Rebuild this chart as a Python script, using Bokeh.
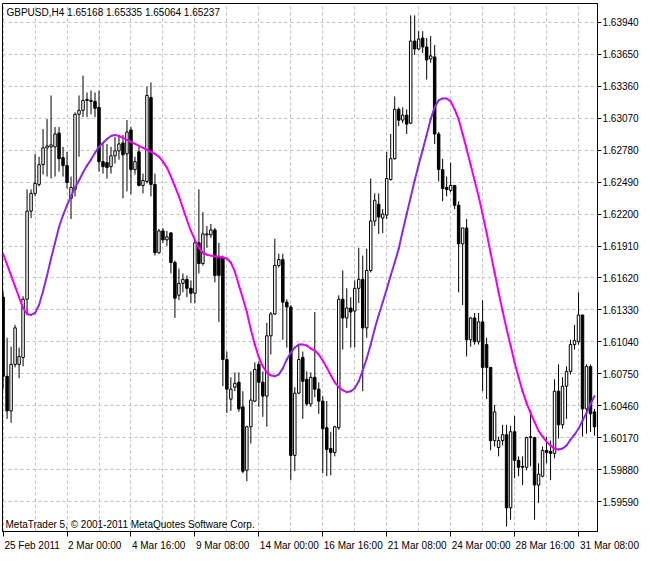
import pandas as pd
from bokeh.plotting import figure
from bokeh.models import (Range1d, FixedTicker, Label, ColumnDataSource, PrintfTickFormatter,
                          CustomJSTickFormatter)
from bokeh.embed import file_html
from bokeh.resources import INLINE

symbol_text = "GBPUSD,H4  1.65168 1.65335 1.65064 1.65237"
copyright_text = "MetaTrader 5, \u00a9 2001-2011 MetaQuotes Software Corp."

open_ = [
    1.61445, 1.60727, 1.60413, 1.60835, 1.60835, 1.60898, 1.61427, 1.62227, 1.62388, 1.62469,
    1.62649, 1.62801, 1.62810, 1.62810, 1.62936, 1.62712, 1.62640, 1.62343, 1.62424, 1.63106,
    1.63142, 1.63241, 1.63232, 1.63223, 1.63169, 1.62676, 1.62667, 1.62631, 1.62729, 1.62774,
    1.62846, 1.62747, 1.62963, 1.62604, 1.62765, 1.62460, 1.62496, 1.63259, 1.62469, 1.61849,
    1.62047, 1.61966, 1.62029, 1.61760, 1.61463, 1.61571, 1.61607, 1.61526, 1.61481, 1.61939,
    1.61751, 1.62011, 1.62011, 1.62056, 1.61805, 1.61805, 1.60880, 1.60520, 1.60628, 1.60673,
    1.60449, 1.59874, 1.60269, 1.60502, 1.60835, 1.60673, 1.60547, 1.61095, 1.61293, 1.61733,
    1.61787, 1.61400, 1.61356, 1.60009, 1.60574, 1.60898, 1.60700, 1.60476, 1.60718, 1.60610,
    1.60502, 1.60260, 1.60072, 1.60036, 1.60260, 1.61427, 1.61257, 1.61347, 1.61320, 1.61526,
    1.61607, 1.61167, 1.61688, 1.62137, 1.62289, 1.62164, 1.62191, 1.62514, 1.62703, 1.63151,
    1.63053, 1.63098, 1.63026, 1.63771, 1.63699, 1.63798, 1.63717, 1.63609, 1.63627, 1.62927,
    1.62604, 1.62442, 1.62415, 1.62460, 1.62280, 1.61930, 1.62074, 1.61059, 1.61257, 1.61041,
    1.61221, 1.61015, 1.60808, 1.60143, 1.60081, 1.60143, 1.60197, 1.59533, 1.60224, 1.59964,
    1.59910, 1.59901, 1.60170, 1.60170, 1.59740, 1.59820, 1.60054, 1.60045, 1.60027, 1.60592,
    1.60287, 1.60637, 1.60772, 1.61015, 1.61041, 1.61284, 1.60431, 1.60817, 1.60404,
]

high = [
    1.61499, 1.61077, 1.60997, 1.61194, 1.60988, 1.61454, 1.62424, 1.62424, 1.62747, 1.62721,
    1.62972, 1.63062, 1.63277, 1.62990, 1.62990, 1.62810, 1.62765, 1.62541, 1.63124, 1.63277,
    1.63457, 1.63304, 1.63322, 1.63304, 1.63322, 1.62855, 1.62837, 1.62810, 1.62900, 1.62900,
    1.62918, 1.63053, 1.62990, 1.62721, 1.62810, 1.62568, 1.63358, 1.63394, 1.62568, 1.62065,
    1.62074, 1.62047, 1.62038, 1.61778, 1.61706, 1.61661, 1.61643, 1.61598, 1.61957, 1.62424,
    1.62218, 1.62092, 1.62110, 1.62074, 1.61939, 1.61823, 1.60952, 1.60718, 1.60763, 1.60763,
    1.60592, 1.60278, 1.60772, 1.60853, 1.60862, 1.60772, 1.61212, 1.61311, 1.61975, 1.61840,
    1.61840, 1.61427, 1.61374, 1.60628, 1.61015, 1.60952, 1.60772, 1.60763, 1.61311, 1.60673,
    1.60547, 1.60502, 1.60224, 1.60278, 1.61463, 1.61688, 1.61526, 1.61445, 1.61598, 1.61894,
    1.61823, 1.61885, 1.62523, 1.62388, 1.62388, 1.62245, 1.62765, 1.62927, 1.63268, 1.63169,
    1.63169, 1.63151, 1.64004, 1.64004, 1.63861, 1.63861, 1.63798, 1.63816, 1.63735, 1.62945,
    1.62703, 1.62541, 1.62667, 1.62460, 1.62316, 1.62074, 1.62155, 1.61266, 1.61302, 1.61302,
    1.61418, 1.61077, 1.60808, 1.60467, 1.60179, 1.60287, 1.60287, 1.60278, 1.60368, 1.60000,
    1.60000, 1.60179, 1.60422, 1.60179, 1.59937, 1.60090, 1.60179, 1.60143, 1.60700, 1.60835,
    1.60718, 1.60817, 1.61059, 1.61194, 1.61490, 1.61284, 1.60835, 1.60835, 1.60431,
]

low = [
    1.60610, 1.60341, 1.60305, 1.60808, 1.60709, 1.60817, 1.61284, 1.62164, 1.62361, 1.62451,
    1.62559, 1.62541, 1.62523, 1.62541, 1.62586, 1.62541, 1.62433, 1.62155, 1.62361, 1.62721,
    1.63080, 1.63080, 1.63106, 1.63080, 1.62586, 1.62568, 1.62523, 1.62568, 1.62658, 1.62694,
    1.62343, 1.62406, 1.62379, 1.62559, 1.62451, 1.62388, 1.62478, 1.62361, 1.61823, 1.61840,
    1.61939, 1.61912, 1.61661, 1.61257, 1.61418, 1.61490, 1.61445, 1.61391, 1.61391, 1.61661,
    1.61733, 1.61894, 1.61984, 1.61580, 1.61221, 1.60637, 1.60395, 1.60413, 1.60592, 1.60404,
    1.59847, 1.59775, 1.60117, 1.60493, 1.60449, 1.60359, 1.60269, 1.60925, 1.61284, 1.61715,
    1.61059, 1.60988, 1.59784, 1.59865, 1.60565, 1.60341, 1.60458, 1.60449, 1.60538, 1.60386,
    1.59847, 1.59820, 1.59829, 1.60000, 1.60242, 1.60970, 1.61167, 1.60988, 1.60988, 1.61391,
    1.60592, 1.61077, 1.61670, 1.62092, 1.62020, 1.62029, 1.62155, 1.62505, 1.62694, 1.62999,
    1.63026, 1.62927, 1.63017, 1.63645, 1.63690, 1.63663, 1.63421, 1.63573, 1.62837, 1.62496,
    1.62316, 1.62361, 1.62397, 1.62245, 1.61490, 1.61374, 1.60907, 1.60997, 1.61015, 1.61015,
    1.60592, 1.60520, 1.60054, 1.60090, 1.60000, 1.60099, 1.59363, 1.59425, 1.59802, 1.59820,
    1.59740, 1.59874, 1.59910, 1.59425, 1.59578, 1.59811, 1.59937, 1.59784, 1.59982, 1.60161,
    1.60251, 1.60341, 1.60745, 1.60970, 1.61015, 1.60179, 1.60206, 1.60224, 1.60188,
]

close = [
    1.60727, 1.60413, 1.60835, 1.61167, 1.60907, 1.61427, 1.62227, 1.62388, 1.62478, 1.62649,
    1.62801, 1.62819, 1.62828, 1.62927, 1.62703, 1.62640, 1.62487, 1.62442, 1.63106, 1.63142,
    1.63232, 1.63232, 1.63223, 1.63160, 1.62676, 1.62631, 1.62622, 1.62729, 1.62774, 1.62837,
    1.62738, 1.62945, 1.62604, 1.62676, 1.62460, 1.62505, 1.63277, 1.62469, 1.61849, 1.62047,
    1.61966, 1.61993, 1.61760, 1.61436, 1.61571, 1.61607, 1.61526, 1.61481, 1.61939, 1.61751,
    1.62020, 1.62020, 1.62056, 1.61643, 1.61643, 1.60880, 1.60610, 1.60610, 1.60664, 1.60431,
    1.59865, 1.60269, 1.60511, 1.60790, 1.60673, 1.60547, 1.61095, 1.61293, 1.61733, 1.61787,
    1.61400, 1.61356, 1.60009, 1.60574, 1.60880, 1.60682, 1.60476, 1.60718, 1.60610, 1.60502,
    1.60251, 1.60063, 1.60036, 1.60269, 1.61427, 1.61257, 1.61347, 1.61311, 1.61526, 1.61607,
    1.61167, 1.61688, 1.62137, 1.62325, 1.62173, 1.62200, 1.62523, 1.62703, 1.63151, 1.63053,
    1.63098, 1.63017, 1.63771, 1.63699, 1.63789, 1.63717, 1.63600, 1.63636, 1.62927, 1.62604,
    1.62433, 1.62424, 1.62460, 1.62280, 1.61930, 1.62074, 1.61059, 1.61257, 1.61041, 1.61221,
    1.60808, 1.60808, 1.60143, 1.60404, 1.60143, 1.60197, 1.59533, 1.60224, 1.59964, 1.59901,
    1.59901, 1.60170, 1.60179, 1.59740, 1.59838, 1.60054, 1.60036, 1.60027, 1.60592, 1.60287,
    1.60637, 1.60772, 1.61015, 1.61051, 1.61284, 1.60431, 1.60817, 1.60386, 1.60269,
]

smooth = [
    1.61840, 1.61742, 1.61643, 1.61544, 1.61445, 1.61347, 1.61293, 1.61284, 1.61302, 1.61374,
    1.61499, 1.61643, 1.61796, 1.61939, 1.62083, 1.62191, 1.62280, 1.62361, 1.62442, 1.62505,
    1.62577, 1.62640, 1.62694, 1.62756, 1.62810, 1.62846, 1.62882, 1.62909, 1.62918, 1.62909,
    1.62891, 1.62873, 1.62855, 1.62837, 1.62819, 1.62801, 1.62783, 1.62765, 1.62747, 1.62721,
    1.62676, 1.62622, 1.62541, 1.62451, 1.62361, 1.62254, 1.62146, 1.62047, 1.61966, 1.61894,
    1.61849, 1.61831, 1.61823, 1.61814, 1.61814, 1.61805, 1.61796, 1.61760, 1.61679, 1.61553,
    1.61436, 1.61311, 1.61149, 1.61015, 1.60898, 1.60817, 1.60763, 1.60736, 1.60727, 1.60745,
    1.60799, 1.60880, 1.60943, 1.60988, 1.61015, 1.61015, 1.61006, 1.60979, 1.60961, 1.60925,
    1.60871, 1.60808, 1.60736, 1.60673, 1.60628, 1.60601, 1.60583, 1.60592, 1.60619, 1.60682,
    1.60781, 1.60889, 1.61015, 1.61158, 1.61284, 1.61400, 1.61517, 1.61643, 1.61760, 1.61885,
    1.62047, 1.62200, 1.62352, 1.62505, 1.62649, 1.62783, 1.62918, 1.63062, 1.63169, 1.63232,
    1.63250, 1.63250, 1.63223, 1.63151, 1.63062, 1.62927, 1.62792, 1.62649, 1.62505, 1.62361,
    1.62200, 1.62029, 1.61849, 1.61670, 1.61490, 1.61320, 1.61158, 1.61006, 1.60853, 1.60718,
    1.60592, 1.60484, 1.60395, 1.60314, 1.60233, 1.60179, 1.60134, 1.60099, 1.60072, 1.60063,
    1.60072, 1.60099, 1.60152, 1.60197, 1.60251, 1.60323, 1.60395, 1.60476, 1.60547,
]

price_ticks = [1.59590, 1.59880, 1.60170, 1.60460, 1.60750, 1.61040, 1.61330, 1.61620,
               1.61910, 1.62200, 1.62490, 1.62780, 1.63070, 1.63360, 1.63650, 1.63940]

# H4 bar times (weekends skipped)
all_times = pd.date_range("2011-02-25 08:00", periods=400, freq="4h")
bar_times = [t for t in all_times if t.weekday() < 5][:len(close)]

n = len(close)
xs = list(range(n))
UP_COLOR = "#8A2BE2"
DOWN_COLOR = "#F000F0"

candles = ColumnDataSource(dict(
    x=xs, high=high, low=low,
    top=[max(o, c) for o, c in zip(open_, close)],
    bottom=[min(o, c) for o, c in zip(open_, close)],
    fill=["white" if c >= o else "black" for o, c in zip(open_, close)],
))

seg_colors = []
prev = DOWN_COLOR
for i in range(n - 1):
    if smooth[i + 1] > smooth[i]:
        prev = UP_COLOR
    elif smooth[i + 1] < smooth[i]:
        prev = DOWN_COLOR
    seg_colors.append(prev)
line_src = ColumnDataSource(dict(
    x0=xs[:-1], y0=smooth[:-1], x1=xs[1:], y1=smooth[1:], color=seg_colors))

W, H = 642, 553
B_LEFT, B_RIGHT, B_TOP, B_BOTTOM = 2, 45, 3, 21
X0, X1 = -0.15, n - 0.25

p = figure(width=W, height=H,
           x_range=Range1d(X0, X1), y_range=Range1d(1.59318, 1.64112),
           y_axis_location="right", output_backend="svg", toolbar_location=None,
           min_border_left=B_LEFT, min_border_right=B_RIGHT,
           min_border_top=B_TOP, min_border_bottom=B_BOTTOM,
           background_fill_color="white", border_fill_color="white")

p.outline_line_color = "black"
p.outline_line_width = 1
p.outline_line_alpha = 1.0

FONT = "Liberation Sans"
FSIZE = "10px"

# grid
p.xgrid.ticker = FixedTicker(ticks=list(range(0, n, 8)))
p.ygrid.ticker = FixedTicker(ticks=price_ticks)
for g in (p.xgrid, p.ygrid):
    g.grid_line_color = "#C0C0C0"
    g.grid_line_dash = "3 3"
    g.grid_line_width = 1

# x axis: tick marks (minor ticks, at the bars) and left-aligned labels
# (major ticks of zero length, placed at each label's centre)
tick_idx = list(range(0, n, 16))
tick_texts = []
for k, i in enumerate(tick_idx):
    t = bar_times[i]
    tick_texts.append(f"{t.day} {t:%b %Y}" if k == 0 else f"{t.day} {t:%b %H:%M}")

ARIAL_W = {"0": 556, "1": 556, "2": 556, "3": 556, "4": 556, "5": 556, "6": 556, "7": 556,
           "8": 556, "9": 556, " ": 278, ":": 278, "F": 611, "e": 556, "b": 556, "M": 833,
           "a": 556, "r": 333, "\u00a0": 278}


def text_px(s):
    return sum(ARIAL_W.get(ch, 556) for ch in s) / 1000 * 10


frame_w = W - B_LEFT - B_RIGHT
px_per_bar = frame_w / (X1 - X0)
label_pos, label_txt = [], []
for i, txt in zip(tick_idx, tick_texts):
    start_px = (i - X0) * px_per_bar + 1
    wpx = text_px(txt)
    centre_px = start_px + wpx / 2
    limit = frame_w - 0.5
    if centre_px > limit:
        pad = 2 * (start_px - limit) + wpx
        k = max(0, round(pad / 2.78))
        txt = "\u00a0" * k + txt
        centre_px = limit
    label_pos.append(X0 + centre_px / px_per_bar)
    label_txt.append(txt)

xa = p.xaxis[0]
xa.ticker = FixedTicker(ticks=label_pos, minor_ticks=tick_idx)
xa.formatter = CustomJSTickFormatter(args=dict(labels=label_txt), code="return labels[index]")
xa.axis_line_color = "black"
xa.major_tick_out = 0
xa.major_tick_in = 0
xa.minor_tick_out = 5
xa.minor_tick_in = 0
xa.minor_tick_line_color = "black"
xa.major_label_standoff = 3
xa.major_label_text_font = FONT
xa.major_label_text_font_size = FSIZE
xa.major_label_text_color = "black"

ya = p.yaxis[0]
ya.ticker = FixedTicker(ticks=price_ticks)
ya.formatter = PrintfTickFormatter(format="%.5f")
ya.major_tick_out = 4
ya.major_tick_in = 0
ya.minor_tick_out = 0
ya.minor_tick_in = 0
ya.major_label_standoff = 1
ya.major_label_text_font = FONT
ya.major_label_text_font_size = FSIZE
ya.major_label_text_color = "black"
ya.axis_line_color = "black"
ya.major_tick_line_color = "black"

# candles
p.segment(x0="x", y0="low", x1="x", y1="high", source=candles, line_color="black", line_width=1)
p.vbar(x="x", width=0.62, top="top", bottom="bottom", source=candles,
       fill_color="fill", line_color="black", line_width=1)

# smoothed line
p.segment(x0="x0", y0="y0", x1="x1", y1="y1", color="color", source=line_src,
          line_width=2, line_cap="round")

frame_h = H - B_TOP - B_BOTTOM
p.add_layout(Label(x=4, y=frame_h - 9.5, x_units="screen", y_units="screen",
                   text=symbol_text, text_font=FONT, text_font_size=FSIZE,
                   text_baseline="middle", text_color="black"))
p.add_layout(Label(x=3, y=7, x_units="screen", y_units="screen",
                   text=copyright_text, text_font=FONT, text_font_size=FSIZE,
                   text_baseline="middle", text_color="black"))

open("out.html", "w").write(file_html(p, INLINE))
